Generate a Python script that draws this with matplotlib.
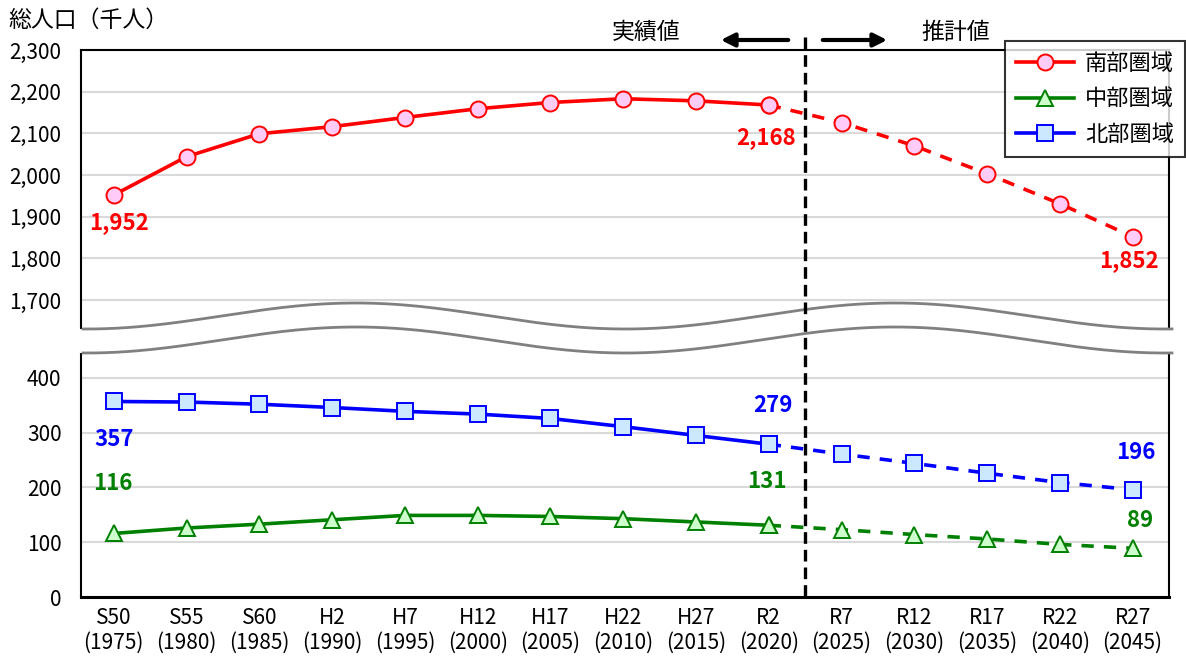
import numpy as np
import matplotlib
matplotlib.use("Agg")
import matplotlib.pyplot as plt

plt.rcParams['font.family'] = ['Noto Sans CJK JP', 'DejaVu Sans']

# 年次ラベル
eras = ["S50", "S55", "S60", "H2", "H7", "H12", "H17", "H22", "H27", "R2",
        "R7", "R12", "R17", "R22", "R27"]
years = ["1975", "1980", "1985", "1990", "1995", "2000", "2005", "2010", "2015", "2020",
         "2025", "2030", "2035", "2040", "2045"]

# 総人口（千人）
south = [1952, 2044, 2099, 2116, 2138, 2159, 2174, 2183, 2178, 2168,
         2126, 2070, 2003, 1931, 1852]
middle = [116, 126, 133, 141, 149, 149, 147, 143, 137, 131,
          123, 114, 106, 96, 89]
north = [357, 356, 352, 346, 339, 334, 326, 311, 295, 279,
         261, 244, 226, 209, 196]

n_actual = 10  # S50..R2 are 実績値

W, H = 1186, 664
fig = plt.figure(figsize=(W / 100, H / 100), dpi=100)

left, right = 81 / W, 1169 / W
ax_top = fig.add_axes([left, 1 - 330 / H, right - left, 280 / H])
ax_bot = fig.add_axes([left, 1 - 597 / H, right - left, 247 / H])

x = np.arange(len(eras))
xlim = (-0.45, 14.5)

styles = [
    ("南部圏域", south, "#FF0000", "#FFCCF8", "o", 11.5),
    ("中部圏域", middle, "#008000", "#CCFFCC", "^", 11.5),
    ("北部圏域", north, "#0000FF", "#CCE8FF", "s", 12),
]

handles = []
for name, vals, col, face, mk, ms in styles:
    ax = ax_top if vals is south else ax_bot
    vals = np.array(vals)
    h, = ax.plot(x[:n_actual], vals[:n_actual], color=col, lw=2.6, marker=mk,
                 ms=ms, mfc=face, mec=col, mew=1.4, zorder=3, label=name)
    ax.plot(x[n_actual - 1:], vals[n_actual - 1:], color=col, lw=2.6,
            linestyle=(0, (3.4, 2.8)), marker=mk, ms=ms, mfc=face, mec=col,
            mew=1.4, zorder=3)
    handles.append(h)

for ax in (ax_top, ax_bot):
    ax.set_xlim(*xlim)
    ax.grid(axis='y', color='#D9D9D9', lw=1.5)
    ax.set_axisbelow(True)
    ax.tick_params(length=0, labelsize=15, pad=14)
    for s in ax.spines.values():
        s.set_color('black')
        s.set_linewidth(1.5)

ax_top.set_ylim(1628, 2300)
ax_top.set_yticks(range(1700, 2301, 100))
ax_top.set_yticklabels([f"{v:,}" for v in range(1700, 2301, 100)])
ax_top.set_xticks([])
ax_top.spines['bottom'].set_visible(False)

ax_bot.set_ylim(0, 451)
ax_bot.set_yticks(range(0, 401, 100))
ax_bot.set_xticks(x)
ax_bot.set_xticklabels([f"{e}\n({y})" for e, y in zip(eras, years)],
                       fontsize=15, linespacing=1.2)
ax_bot.tick_params(axis='x', pad=7)
ax_bot.spines['top'].set_visible(False)
ax_bot.spines['bottom'].set_linewidth(2.2)

# data labels
lab = dict(textcoords='offset pixels', ha='center', va='center',
           fontsize=16, fontweight='bold')
ax_top.annotate(f"{south[0]:,}", (0, south[0]), xytext=(5, -28), color='#FF0000', **lab)
ax_top.annotate(f"{south[9]:,}", (9, south[9]), xytext=(-3, -33), color='#FF0000', **lab)
ax_top.annotate(f"{south[14]:,}", (14, south[14]), xytext=(-4, -24), color='#FF0000', **lab)
ax_bot.annotate(f"{north[0]}", (0, north[0]), xytext=(0, -38), color='#0000FF', **lab)
ax_bot.annotate(f"{middle[0]}", (0, middle[0]), xytext=(-1, 50), color='#008000', **lab)
ax_bot.annotate(f"{north[9]}", (9, north[9]), xytext=(4, 39), color='#0000FF', **lab)
ax_bot.annotate(f"{middle[9]}", (9, middle[9]), xytext=(-2, 44), color='#008000', **lab)
ax_bot.annotate(f"{north[14]}", (14, north[14]), xytext=(3, 37), color='#0000FF', **lab)
ax_bot.annotate(f"{middle[14]}", (14, middle[14]), xytext=(7, 28), color='#008000', **lab)

leg = fig.legend(handles=handles, loc='upper right', bbox_to_anchor=(1185 / W, 1 - 41 / H),
                 borderaxespad=0, fontsize=16, frameon=True, fancybox=False,
                 edgecolor='black', handlelength=2.6, borderpad=0.5,
                 labelspacing=0.55, handletextpad=0.5)
leg.get_frame().set_linewidth(1.5)
leg.set_zorder(10)

# overlay in pixel coords: axis break, divider, arrows
ov = fig.add_axes([0, 0, 1, 1], zorder=5)
ov.set_xlim(0, W)
ov.set_ylim(H, 0)
ov.axis('off')

xs = np.linspace(83, 1172, 400)
upper = 316 - 13 * np.cos(2 * np.pi * (xs - 356) / 539)
lower = upper + 24
ov.fill_between(xs, upper, lower, color='white', lw=0)
ov.fill_between([70, 83], [upper[0]] * 2, [lower[0]] * 2, color='white', lw=0)
ov.plot(xs, upper, color='#808080', lw=2)
ov.plot(xs, lower, color='#808080', lw=2)

x_div = left * W + (9.5 - xlim[0]) / (xlim[1] - xlim[0]) * (right - left) * W
ov.plot([x_div, x_div], [37, 600], color='black', lw=2.4, linestyle=(0, (3.5, 1.8)))

ov.annotate("", xy=(718, 40), xytext=(791, 40),
            arrowprops=dict(arrowstyle='-|>,head_length=0.8,head_width=0.4',
                            color='black', lw=3))
ov.annotate("", xy=(890, 40), xytext=(820, 40),
            arrowprops=dict(arrowstyle='-|>,head_length=0.8,head_width=0.4',
                            color='black', lw=3))
ov.text(646, 32, "実績値", fontsize=16.5, ha='center', va='center')
ov.text(956, 32, "推計値", fontsize=16.5, ha='center', va='center')
ov.text(8, 20, "総人口（千人）", fontsize=16.5, ha='left', va='center')

fig.savefig("out.png", dpi=100)
